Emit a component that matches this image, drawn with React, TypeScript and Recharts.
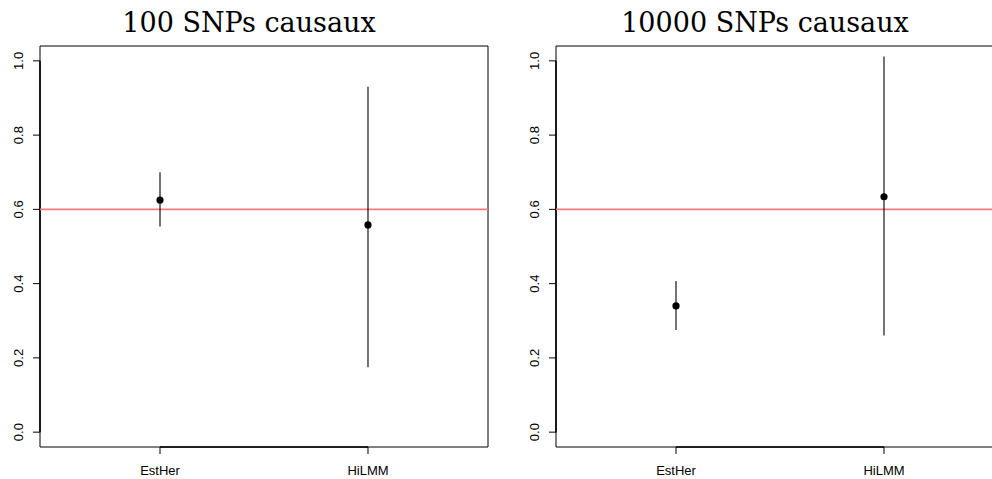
import { ComposedChart, Scatter, ErrorBar, XAxis, YAxis, ReferenceLine, ReferenceArea } from "recharts";

const methods = ["EstHer", "HiLMM"];
const yTicks = [0, 0.2, 0.4, 0.6, 0.8, 1.0];
const trueH2 = 0.6;

// 100 causal SNPs
const est100 = [0.625, 0.558];
const low100 = [0.554, 0.175];
const high100 = [0.70, 0.93];

// 10000 causal SNPs
const est10000 = [0.34, 0.634];
const low10000 = [0.275, 0.26];
const high10000 = [0.407, 1.012];

const xDomain: [number, number] = [0.423, 2.577];
const yDomain: [number, number] = [-0.04, 1.04];

function buildRows(est: number[], low: number[], high: number[]) {
  return methods.map((m, i) => ({
    pos: i + 1,
    name: m,
    h2: est[i],
    err: [est[i] - low[i], high[i] - est[i]],
  }));
}

function YTick(props: any) {
  const { y, payload } = props;
  return (
    <text
      x={23}
      y={y}
      transform={`rotate(-90, 23, ${y})`}
      textAnchor="middle"
      fontSize={13}
      fontFamily="Liberation Sans, Arial, sans-serif"
      fill="#000"
    >
      {payload.value.toFixed(1)}
    </text>
  );
}

function Dot(props: any) {
  return <circle cx={props.cx} cy={props.cy} r={3.6} fill="#000" />;
}

function Panel({ rows, left }: { rows: any[]; left: number }) {
  return (
    <div style={{ position: "absolute", left, top: 0 }}>
      <ComposedChart width={496} height={479} data={rows} margin={{ top: 46, right: 8, bottom: 0, left: 0 }}>
        <XAxis
          dataKey="pos"
          type="number"
          domain={xDomain}
          ticks={[1, 2]}
          allowDataOverflow
          tickFormatter={(v: number) => methods[v - 1]}
          height={32}
          tickSize={7}
          tickMargin={12}
          axisLine={false}
          tickLine={{ stroke: "#000" }}
          tick={{ fontSize: 13, fill: "#000", fontFamily: "Liberation Sans, Arial, sans-serif" }}
        />
        <YAxis
          type="number"
          domain={yDomain}
          ticks={yTicks}
          allowDataOverflow
          width={40}
          tickSize={7}
          axisLine={false}
          tickLine={{ stroke: "#000" }}
          tick={<YTick />}
        />
        <ReferenceArea
          x1={xDomain[0]}
          x2={xDomain[1]}
          y1={yDomain[0]}
          y2={yDomain[1]}
          fill="none"
          stroke="#000"
          strokeWidth={1}
          ifOverflow="visible"
        />
        <ReferenceLine
          segment={[{ x: 1, y: yDomain[0] }, { x: 2, y: yDomain[0] }]}
          stroke="#000"
          strokeWidth={1.6}
          ifOverflow="visible"
        />
        <ReferenceLine
          segment={[{ x: xDomain[0], y: 0 }, { x: xDomain[0], y: 1 }]}
          stroke="#000"
          strokeWidth={1.6}
          ifOverflow="visible"
        />
        <ReferenceLine y={trueH2} stroke="#f37b7b" strokeWidth={1.6} ifOverflow="visible" />
        <Scatter dataKey="h2" shape={<Dot />} isAnimationActive={false}>
          <ErrorBar dataKey="err" direction="y" width={0} stroke="#000" strokeWidth={1.1} isAnimationActive={false} />
        </Scatter>
      </ComposedChart>
    </div>
  );
}

export default function App() {
  return (
    <div style={{ position: "absolute", left: 0, top: 0, width: 992, height: 479, overflow: "hidden", background: "#fff" }}>
      <Panel rows={buildRows(est100, low100, high100)} left={0} />
      <Panel rows={buildRows(est10000, low10000, high10000)} left={516} />
      <svg width={992} height={479} style={{ position: "absolute", left: 0, top: 0, pointerEvents: "none" }}>
        <text x={249} y={32} textAnchor="middle" fontSize={27} fontFamily="DejaVu Serif, serif" fill="#000">
          100 SNPs causaux
        </text>
        <text x={765} y={32} textAnchor="middle" fontSize={27} fontFamily="DejaVu Serif, serif" fill="#000">
          10000 SNPs causaux
        </text>
      </svg>
    </div>
  );
}
